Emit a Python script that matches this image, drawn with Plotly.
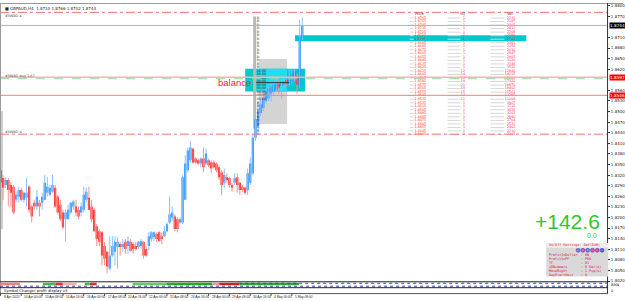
import plotly.graph_objects as go

# ---------------- data ----------------
symbol = "GBPAUD,H4"
opens = [1.8334, 1.8312, 1.8292, 1.8306, 1.8292, 1.8287, 1.8250, 1.8259, 1.8278, 1.8250,
         1.8256, 1.8287, 1.8231, 1.8242, 1.8231, 1.8242, 1.8242, 1.8250, 1.8270, 1.8264,
         1.8273, 1.8284, 1.8259, 1.8236, 1.8214, 1.8195, 1.8195, 1.8214, 1.8231, 1.8231,
         1.8222, 1.8214, 1.8222, 1.8250, 1.8256, 1.8231, 1.8222, 1.8175, 1.8161, 1.8158,
         1.8119, 1.8103, 1.8055, 1.8092, 1.8103, 1.8116, 1.8125, 1.8116, 1.8131, 1.8119,
         1.8131, 1.8125, 1.8119, 1.8116, 1.8119, 1.8131, 1.8111, 1.8119, 1.8139, 1.8144,
         1.8153, 1.8158, 1.8147, 1.8147, 1.8161, 1.8186, 1.8200, 1.8203, 1.8195, 1.8186,
         1.8186, 1.8250, 1.8334, 1.8362, 1.8395, 1.8367, 1.8362, 1.8353, 1.8367, 1.8353,
         1.8362, 1.8356, 1.8356, 1.8353, 1.8342, 1.8328, 1.8298, 1.8314, 1.8312, 1.8292,
         1.8298, 1.8314, 1.8298, 1.8287, 1.8284, 1.8278, 1.8298, 1.8325, 1.8426, 1.8459,
         1.8496, 1.8510, 1.8529, 1.8537, 1.8551, 1.8557, 1.8562, 1.8579, 1.8573, 1.8576,
         1.8590, 1.8579, 1.8585, 1.8590, 1.8599, 1.8571, 1.8710]
highs = [1.8339, 1.8320, 1.8314, 1.8312, 1.8300, 1.8292, 1.8273, 1.8287, 1.8284, 1.8273,
         1.8312, 1.8292, 1.8236, 1.8250, 1.8278, 1.8250, 1.8270, 1.8320, 1.8314, 1.8292,
         1.8320, 1.8292, 1.8264, 1.8250, 1.8222, 1.8222, 1.8236, 1.8245, 1.8250, 1.8250,
         1.8231, 1.8242, 1.8287, 1.8284, 1.8287, 1.8250, 1.8228, 1.8181, 1.8167, 1.8161,
         1.8131, 1.8106, 1.8147, 1.8147, 1.8147, 1.8144, 1.8131, 1.8139, 1.8139, 1.8147,
         1.8139, 1.8131, 1.8131, 1.8133, 1.8139, 1.8133, 1.8119, 1.8158, 1.8161, 1.8161,
         1.8158, 1.8161, 1.8158, 1.8175, 1.8186, 1.8259, 1.8231, 1.8209, 1.8200, 1.8200,
         1.8320, 1.8376, 1.8398, 1.8417, 1.8398, 1.8370, 1.8367, 1.8370, 1.8398, 1.8395,
         1.8367, 1.8362, 1.8362, 1.8356, 1.8348, 1.8334, 1.8339, 1.8325, 1.8314, 1.8298,
         1.8325, 1.8325, 1.8300, 1.8292, 1.8287, 1.8339, 1.8370, 1.8437, 1.8521, 1.8529,
         1.8535, 1.8548, 1.8562, 1.8571, 1.8585, 1.8585, 1.8599, 1.8590, 1.8590, 1.8593,
         1.8593, 1.8621, 1.8621, 1.8621, 1.8607, 1.8760, 1.8766]
lows = [1.8259, 1.8250, 1.8284, 1.8231, 1.8231, 1.8209, 1.8242, 1.8242, 1.8245, 1.8242,
        1.8231, 1.8214, 1.8186, 1.8222, 1.8222, 1.8203, 1.8222, 1.8250, 1.8259, 1.8259,
        1.8270, 1.8228, 1.8209, 1.8189, 1.8167, 1.8133, 1.8195, 1.8209, 1.8222, 1.8203,
        1.8195, 1.8203, 1.8214, 1.8242, 1.8222, 1.8186, 1.8158, 1.8119, 1.8119, 1.8064,
        1.8064, 1.8042, 1.8050, 1.8089, 1.8064, 1.8055, 1.8092, 1.8103, 1.8097, 1.8097,
        1.8103, 1.8097, 1.8106, 1.8111, 1.8111, 1.8083, 1.8089, 1.8106, 1.8131, 1.8133,
        1.8131, 1.8131, 1.8125, 1.8144, 1.8158, 1.8181, 1.8189, 1.8161, 1.8158, 1.8181,
        1.8181, 1.8250, 1.8328, 1.8356, 1.8353, 1.8353, 1.8348, 1.8342, 1.8328, 1.8348,
        1.8342, 1.8325, 1.8339, 1.8328, 1.8306, 1.8264, 1.8284, 1.8298, 1.8284, 1.8273,
        1.8292, 1.8270, 1.8264, 1.8273, 1.8264, 1.8264, 1.8292, 1.8320, 1.8417, 1.8445,
        1.8487, 1.8501, 1.8521, 1.8529, 1.8529, 1.8548, 1.8557, 1.8551, 1.8535, 1.8565,
        1.8571, 1.8571, 1.8576, 1.8585, 1.8551, 1.8568, 1.8702]
closes = [1.8298, 1.8284, 1.8306, 1.8278, 1.8270, 1.8214, 1.8264, 1.8278, 1.8250, 1.8270,
          1.8270, 1.8222, 1.8203, 1.8231, 1.8259, 1.8231, 1.8259, 1.8298, 1.8287, 1.8284,
          1.8292, 1.8231, 1.8214, 1.8195, 1.8172, 1.8214, 1.8222, 1.8242, 1.8245, 1.8214,
          1.8203, 1.8231, 1.8264, 1.8273, 1.8222, 1.8195, 1.8161, 1.8139, 1.8131, 1.8092,
          1.8083, 1.8061, 1.8092, 1.8119, 1.8131, 1.8131, 1.8116, 1.8125, 1.8111, 1.8133,
          1.8106, 1.8111, 1.8111, 1.8131, 1.8133, 1.8092, 1.8092, 1.8147, 1.8158, 1.8158,
          1.8139, 1.8133, 1.8139, 1.8161, 1.8181, 1.8209, 1.8214, 1.8167, 1.8167, 1.8195,
          1.8314, 1.8353, 1.8390, 1.8398, 1.8356, 1.8356, 1.8353, 1.8367, 1.8342, 1.8381,
          1.8348, 1.8339, 1.8342, 1.8334, 1.8314, 1.8292, 1.8320, 1.8306, 1.8292, 1.8284,
          1.8312, 1.8292, 1.8278, 1.8278, 1.8270, 1.8325, 1.8353, 1.8426, 1.8479, 1.8501,
          1.8521, 1.8537, 1.8557, 1.8565, 1.8571, 1.8576, 1.8579, 1.8568, 1.8585, 1.8585,
          1.8579, 1.8599, 1.8607, 1.8613, 1.8576, 1.8710, 1.8744]

time_labels = ["8 Apr 2020", "10 Apr 00:00", "13 Apr 08:00", "14 Apr 16:00", "16 Apr 00:00",
               "17 Apr 08:00", "20 Apr 16:00", "22 Apr 00:00", "23 Apr 08:00", "24 Apr 16:00",
               "28 Apr 00:00", "29 Apr 08:00", "30 Apr 16:00", "4 May 00:00", "5 May 08:00"]
bars_per_label = 8

# axis labels (the ones hidden under the price boxes are left out, as in the terminal)
price_ticks = [1.8800, 1.8770, 1.8710, 1.8680, 1.8650, 1.8620, 1.8560,
               1.8530, 1.8500, 1.8470, 1.8440, 1.8410, 1.8380, 1.8350, 1.8320, 1.8290,
               1.8260, 1.8230, 1.8200, 1.8170, 1.8140, 1.8110, 1.8080, 1.8050, 1.8020]

dashdot_levels = [1.8781, 1.8436]
bid_level = 1.8744
order_level = 1.8597
order_green_level = 1.8593
stop_level = 1.8546

ladder_prices = [1.8765, 1.8755, 1.8745, 1.8735, 1.8725, 1.8715, 1.8705, 1.8695, 1.8685,
                 1.8675, 1.8665, 1.8655, 1.8645, 1.8635, 1.8625, 1.8615, 1.8605, 1.8595,
                 1.8585, 1.8575, 1.8565, 1.8555, 1.8545, 1.8535, 1.8525, 1.8515, 1.8505,
                 1.8495, 1.8485, 1.8475, 1.8465, 1.8455, 1.8445, 1.8435]
ladder_sq = [1, 1, 1, 1, 1, 1, 1, 1, 1, 1, 1, 1, 1, 1, 1, 12, 14, 16, 18, 21, 19, 15, 13, 11,
             1, 1, 1, 1, 1, 1, 1, 1, 1, 1]
ladder_vol = [2231, 2187, 2305, 2412, 2268, 2590, 2733, 2491, 2356, 2610, 2847, 2905, 3120,
              3344, 3512, 12840, 14215, 15630, 17322, 19870, 18402, 15561, 13297, 11068,
              3967, 3715, 3418, 3202, 2980, 2764, 2531, 2402, 2210, 2105]

profit_text = "+142.6"
profit_sub = "0.0"
settings_header = "On/Off Settings: Def(DUR)"
settings_names = ["ProfitInDollar", "ProfitInPF", "TF", "iBNumbers", "MoveRight", "DayStartHour"]
settings_values = ["ON", "PRO", "D1", "0 Bar(s)", "1 Pip(s)", "0"]
indicator_name = "Symbol Changer profit display v3"

# ---------------- geometry helpers (pixel -> axis/paper) ----------------
W, H = 625, 301
BAR_PX, X0_PX = 2.61, 0.5
PLOT_R = 609


def bx(px):
    return (px - X0_PX) / BAR_PX


def xp(px):
    return px / W


def yp(py):
    return 1 - py / H


n = len(opens)
idx = list(range(n))
up = [i for i in idx if closes[i] >= opens[i]]
dn = [i for i in idx if closes[i] < opens[i]]

fig = go.Figure()


def wick_xy(ids):
    xs, ys = [], []
    for i in ids:
        xs += [i, i, None]
        ys += [lows[i], highs[i], None]
    return xs, ys


# ---- background objects (zones) ----
shapes = []
shapes.append(dict(type="rect", xref="x", yref="y", x0=bx(260), x1=bx(288), y0=1.8465, y1=1.8649,
                   fillcolor="#D4D4D4", line_width=0, layer="below"))
shapes.append(dict(type="rect", xref="x", yref="y", x0=bx(246), x1=bx(306), y0=1.8557, y1=1.8621,
                   fillcolor="#00C8CC", line_width=0, layer="below"))
shapes.append(dict(type="rect", xref="x", yref="y", x0=bx(257), x1=bx(288), y0=1.8557, y1=1.8621,
                   fillcolor="#22DDEE", line_width=0, layer="below"))
shapes.append(dict(type="rect", xref="x", yref="y", x0=bx(296), x1=bx(528), y0=1.8699, y1=1.8716,
                   fillcolor="#00C8CC", line_width=0, layer="below"))
shapes.append(dict(type="rect", xref="x", yref="y", x0=bx(254), x1=bx(257), y0=1.8451, y1=1.8769,
                   fillcolor="#B8B8B8", line_width=0, layer="below"))
shapes.append(dict(type="rect", xref="paper", yref="paper", x0=0, x1=xp(3), y0=yp(230), y1=yp(110),
                   fillcolor="#CFCFCF", line_width=0, layer="below"))

for lv in dashdot_levels:
    shapes.append(dict(type="line", xref="paper", yref="y", x0=0, x1=xp(PLOT_R), y0=lv, y1=lv,
                       line=dict(color="#FF7070", width=1, dash="dashdot")))
shapes.append(dict(type="line", xref="paper", yref="y", x0=0, x1=xp(PLOT_R), y0=bid_level, y1=bid_level,
                   line=dict(color="#A9B4BC", width=1)))
shapes.append(dict(type="line", xref="paper", yref="y", x0=0, x1=xp(PLOT_R), y0=order_level, y1=order_level,
                   line=dict(color="#FFB0B0", width=1.5)))
shapes.append(dict(type="line", xref="paper", yref="y", x0=0, x1=xp(PLOT_R), y0=order_green_level,
                   y1=order_green_level, line=dict(color="#9AD89A", width=1, dash="dash")))
shapes.append(dict(type="line", xref="paper", yref="y", x0=0, x1=xp(PLOT_R), y0=stop_level, y1=stop_level,
                   line=dict(color="#FF7B7B", width=1)))
shapes.append(dict(type="line", xref="x", yref="y", x0=bx(257), x1=bx(290), y0=1.8582, y1=1.8582,
                   line=dict(color="#333333", width=1)))

# frame lines
shapes.append(dict(type="line", xref="paper", yref="paper", x0=0, x1=1, y0=yp(0.5), y1=yp(0.5),
                   line=dict(color="#9A9A9A", width=1)))
shapes.append(dict(type="line", xref="paper", yref="paper", x0=xp(0.5), x1=xp(0.5), y0=yp(0), y1=yp(296),
                   line=dict(color="#9A9A9A", width=1)))
shapes.append(dict(type="line", xref="paper", yref="paper", x0=xp(PLOT_R + 0.5), x1=xp(PLOT_R + 0.5),
                   y0=yp(0), y1=yp(296), line=dict(color="#333333", width=1)))

# indicator sub window
shapes.append(dict(type="line", xref="paper", yref="paper", x0=0, x1=xp(PLOT_R + 1), y0=yp(283.5), y1=yp(283.5),
                   line=dict(color="#222222", width=1)))
seg_colors = [(0, 20, "#F08080"), (43, 56, "#44BB44"), (56, 63, "#E03030"), (63, 77, "#F4B0B0"),
              (85, 90, "#44BB44"), (90, 97, "#E03030"), (133, 167, "#66CC66"), (167, 213, "#22AA22"),
              (213, 220, "#F090B0"), (220, 240, "#CC2222"), (240, 300, "#33AA33")]
for a, b, c in seg_colors:
    shapes.append(dict(type="rect", xref="paper", yref="paper", x0=xp(a), x1=xp(b), y0=yp(287), y1=yp(284.5),
                       fillcolor=c, line_width=0))
shapes.append(dict(type="line", xref="paper", yref="paper", x0=xp(0), x1=xp(PLOT_R), y0=yp(288), y1=yp(288),
                   line=dict(color="#3344AA", width=1, dash="dot")))
shapes.append(dict(type="line", xref="paper", yref="paper", x0=xp(240), x1=xp(PLOT_R), y0=yp(285), y1=yp(285),
                   line=dict(color="#3344AA", width=1, dash="dot")))
shapes.append(dict(type="line", xref="paper", yref="paper", x0=0, x1=xp(PLOT_R + 1), y0=yp(289.5), y1=yp(289.5),
                   line=dict(color="#222222", width=1)))
shapes.append(dict(type="line", xref="paper", yref="paper", x0=0, x1=xp(PLOT_R + 1), y0=yp(295.5), y1=yp(295.5),
                   line=dict(color="#555555", width=1)))
for k in range(len(time_labels)):
    xi = k * bars_per_label
    shapes.append(dict(type="line", xref="x", yref="paper", x0=xi, x1=xi, y0=yp(295.5), y1=yp(298),
                       line=dict(color="#555555", width=1)))

# settings panel
shapes.append(dict(type="rect", xref="paper", yref="paper", x0=xp(548), x1=xp(610), y0=yp(278), y1=yp(244),
                   fillcolor="#D9D9D9", line_width=0))
shapes.append(dict(type="rect", xref="paper", yref="paper", x0=xp(548), x1=xp(610), y0=yp(249), y1=yp(244),
                   fillcolor="#EEEEEE", line_width=0))
dot_cols = ["#6F86E0", "#F04FB0", "#6F86E0", "#F04FB0", "#F04FB0", "#5C6FE0"]
for k, c in enumerate(dot_cols):
    cx = 580 + k * 4.8
    shapes.append(dict(type="circle", xref="paper", yref="paper", x0=xp(cx - 2), x1=xp(cx + 2),
                       y0=yp(253.5), y1=yp(249.5), fillcolor=c, line=dict(color="#3333AA", width=0.5)))

# ---- candles ----
xs, ys = wick_xy(up)
fig.add_trace(go.Scatter(x=xs, y=ys, mode="lines", line=dict(color="#86C2FF", width=1), hoverinfo="skip"))
xs, ys = wick_xy(dn)
fig.add_trace(go.Scatter(x=xs, y=ys, mode="lines", line=dict(color="#FF8C8C", width=1), hoverinfo="skip"))
fig.add_trace(go.Bar(x=up, base=[opens[i] for i in up], y=[closes[i] - opens[i] for i in up],
                     width=0.85, marker=dict(color="#1E88FF", line_width=0)))
fig.add_trace(go.Bar(x=dn, base=[closes[i] for i in dn], y=[opens[i] - closes[i] for i in dn],
                     width=0.85, marker=dict(color="#FF1010", line_width=0)))

# ---- volume profile text (dark, tiny) ----
fig.add_trace(go.Scatter(x=[bx(257.5)] * len(ladder_prices), y=ladder_prices, mode="text",
                         text=["8:" if v < 10000 else "88:88" for v in ladder_vol],
                         textposition="middle right",
                         textfont=dict(size=3.3, color="#303030", family="DejaVu Sans"), hoverinfo="skip"))

# ---- right table ----
lead_x, lead_y = [], []
for p in ladder_prices:
    for a, b in [(411, 415), (449, 462), (492, 506)]:
        lead_x += [bx(a), bx(b), None]
        lead_y += [p, p, None]
fig.add_trace(go.Scatter(x=lead_x, y=lead_y, mode="lines", line=dict(color="#D6D6D6", width=1),
                         hoverinfo="skip"))
tfont = dict(size=3.3, color="#FF2A2A", family="DejaVu Sans")
fig.add_trace(go.Scatter(x=[bx(427.5)] * len(ladder_prices), y=ladder_prices, mode="text",
                         text=[f"{p:.4f}" for p in ladder_prices], textposition="middle left",
                         textfont=tfont, hoverinfo="skip"))
fig.add_trace(go.Scatter(x=[bx(466.5)] * len(ladder_prices), y=ladder_prices, mode="text",
                         text=[str(v) for v in ladder_sq], textposition="middle left",
                         textfont=tfont, hoverinfo="skip"))
fig.add_trace(go.Scatter(x=[bx(517)] * len(ladder_prices), y=ladder_prices, mode="text",
                         text=[str(v) for v in ladder_vol], textposition="middle left",
                         textfont=tfont, hoverinfo="skip"))

# ---- annotations ----
ann = []
small = dict(size=4, family="DejaVu Sans", color="#222222")
ann.append(dict(x=xp(3), y=yp(5.5), xref="paper", yref="paper", xanchor="left", yanchor="middle",
                text="\u25a0 " + symbol + "  1.8710 1.8766 1.8702 1.8744", showarrow=False, font=small))
lab_font = dict(size=3.5, family="DejaVu Sans", color="#555555")
ann.append(dict(x=xp(3), y=yp(13.5), xref="paper", yref="paper", xanchor="left", yanchor="middle",
                text="#NNBD a", showarrow=False, font=lab_font))
ann.append(dict(x=xp(3), y=yp(74), xref="paper", yref="paper", xanchor="left", yanchor="middle",
                text="#NNBD buy 1.67", showarrow=False, font=lab_font))
ann.append(dict(x=xp(3), y=yp(131.5), xref="paper", yref="paper", xanchor="left", yanchor="middle",
                text="#NNBD d", showarrow=False, font=lab_font))
ann.append(dict(x=bx(217), y=1.8582, xref="x", yref="y", xanchor="left", yanchor="middle",
                text="balance", showarrow=False, font=dict(size=9.5, family="Liberation Sans", color="#FF1A1A")))
for txt, px_ in [("Price", 421), ("SQ", 463.5), ("Vol", 511)]:
    ann.append(dict(x=bx(px_), y=yp(11), xref="x", yref="paper", xanchor="center", yanchor="middle",
                    text=txt, showarrow=False, font=dict(size=3.6, family="DejaVu Sans", color="#333333")))
for lv, bg in [(bid_level, "#000000"), (order_level, "#FF0000"), (stop_level, "#FF0000")]:
    ann.append(dict(x=xp(610.5), y=lv, xref="paper", yref="y", xanchor="left", yanchor="middle",
                    text=f"{lv:.4f}", showarrow=False, bgcolor=bg, borderpad=0,
                    font=dict(size=4.2, family="DejaVu Sans", color="white")))
ann.append(dict(x=xp(604), y=yp(222), xref="paper", yref="paper", xanchor="right", yanchor="middle",
                text=profit_text, showarrow=False, font=dict(size=21, family="Liberation Sans", color="#2DC82D")))
ann.append(dict(x=xp(601), y=yp(236.5), xref="paper", yref="paper", xanchor="right", yanchor="middle",
                text=profit_sub, showarrow=False, font=dict(size=7, family="Liberation Sans", color="#2DC82D")))
sfont = dict(size=3.4, family="DejaVu Sans Mono", color="#E02020")
ann.append(dict(x=xp(549), y=yp(246.5), xref="paper", yref="paper", xanchor="left", yanchor="middle",
                text=settings_header, showarrow=False, font=sfont))
for k, (nm, vl) in enumerate(zip(settings_names, settings_values)):
    yy = 256.5 + k * 4
    ann.append(dict(x=xp(549), y=yp(yy), xref="paper", yref="paper", xanchor="left", yanchor="middle",
                    text=nm, showarrow=False, font=sfont))
    ann.append(dict(x=xp(581), y=yp(yy), xref="paper", yref="paper", xanchor="left", yanchor="middle",
                    text=": " + vl, showarrow=False, font=sfont))
ann.append(dict(x=xp(2), y=yp(292.5), xref="paper", yref="paper", xanchor="left", yanchor="middle",
                text=indicator_name, showarrow=False, font=dict(size=3.8, family="DejaVu Sans", color="#111111")))
ann.append(dict(x=xp(611), y=yp(286.5), xref="paper", yref="paper", xanchor="left", yanchor="middle",
                text="BMN", showarrow=False, font=dict(size=3.5, family="DejaVu Sans", color="#111111")))
ann.append(dict(x=xp(611), y=yp(292.5), xref="paper", yref="paper", xanchor="left", yanchor="middle",
                text="0", showarrow=False, font=dict(size=3.5, family="DejaVu Sans", color="#111111")))
for k, lab in enumerate(time_labels):
    ann.append(dict(x=k * bars_per_label + 0.4, y=yp(298.5), xref="x", yref="paper", xanchor="left",
                    yanchor="middle", text=lab, showarrow=False,
                    font=dict(size=3.2, family="Liberation Sans", color="#222222")))

fig.update_layout(
    width=W, height=H, margin=dict(l=0, r=0, t=0, b=0),
    paper_bgcolor="white", plot_bgcolor="white", showlegend=False,
    barmode="overlay", shapes=shapes, annotations=ann,
    xaxis=dict(domain=[0, PLOT_R / W], range=[bx(0), bx(PLOT_R)], visible=False, fixedrange=True),
    yaxis=dict(domain=[(H - 282.7) / H, (H - 2.7) / H], range=[1.8020, 1.8800], side="right",
               tickvals=price_ticks, ticktext=[f"{v:.4f}" for v in price_ticks],
               ticks="outside", ticklen=2, tickcolor="#333333", showgrid=False, zeroline=False,
               showline=False, tickfont=dict(size=4, family="DejaVu Sans", color="#222222"),
               fixedrange=True),
)

fig.write_html("out.html")
